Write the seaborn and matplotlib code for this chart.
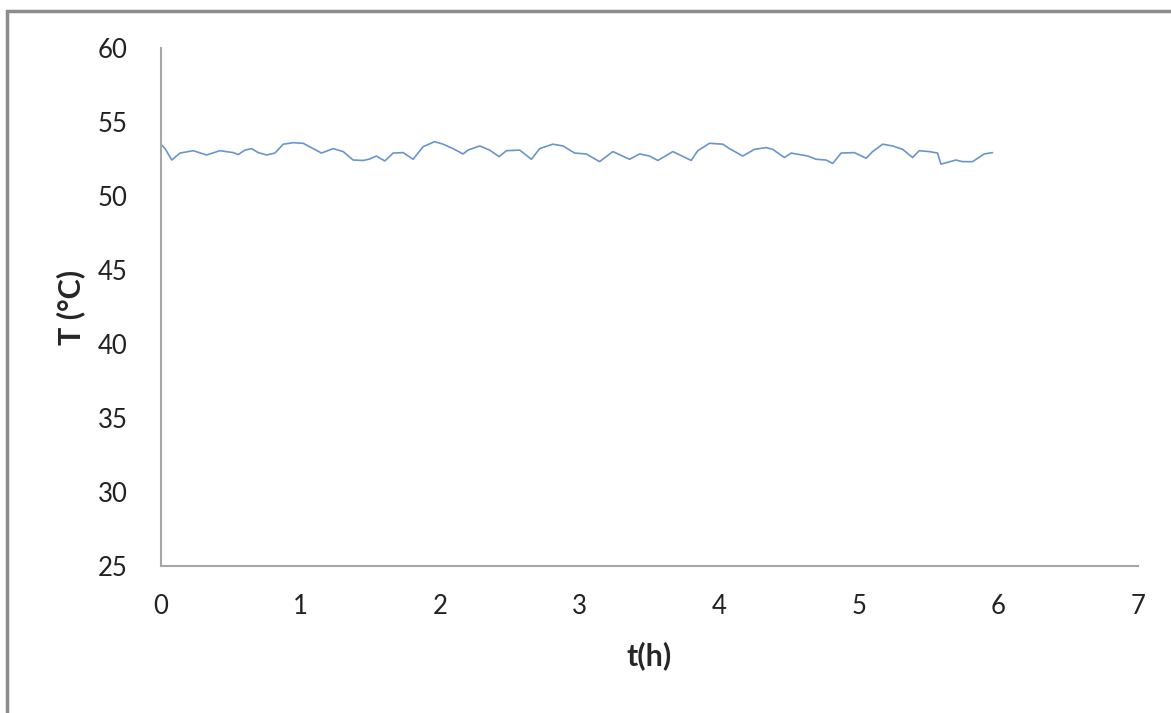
import pandas as pd
import matplotlib
matplotlib.use("Agg")
import matplotlib.pyplot as plt
from matplotlib.patches import Rectangle
import seaborn as sns

# digitized readings

t_hours = [0.005, 0.029, 0.077, 0.136, 0.231, 0.327, 0.422, 0.518, 0.553, 0.601,
           0.649, 0.697, 0.756, 0.816, 0.876, 0.947, 1.019, 1.090, 1.150, 1.234,
           1.305, 1.377, 1.448, 1.496, 1.544, 1.568, 1.604, 1.663, 1.735, 1.806,
           1.878, 1.961, 2.021, 2.092, 2.164, 2.200, 2.283, 2.355, 2.422, 2.475,
           2.570, 2.654, 2.713, 2.808, 2.880, 2.964, 3.047, 3.142, 3.238, 3.357,
           3.429, 3.500, 3.560, 3.667, 3.799, 3.846, 3.930, 4.025, 4.073, 4.168,
           4.252, 4.336, 4.383, 4.467, 4.515, 4.634, 4.694, 4.765, 4.813, 4.873,
           4.968, 5.052, 5.099, 5.171, 5.242, 5.314, 5.385, 5.433, 5.505, 5.564,
           5.588, 5.696, 5.743, 5.815, 5.898, 5.958]
temp_c = [53.44, 53.20, 52.43, 52.90, 53.06, 52.77, 53.06, 52.93, 52.80, 53.10,
          53.20, 52.93, 52.77, 52.90, 53.50, 53.60, 53.56, 53.20, 52.90, 53.20,
          53.00, 52.43, 52.40, 52.50, 52.70, 52.55, 52.37, 52.90, 52.93, 52.48,
          53.33, 53.67, 53.50, 53.20, 52.84, 53.10, 53.38, 53.10, 52.66, 53.06,
          53.10, 52.48, 53.20, 53.50, 53.38, 52.90, 52.84, 52.32, 53.00, 52.48,
          52.84, 52.70, 52.40, 53.00, 52.40, 53.06, 53.56, 53.50, 53.20, 52.70,
          53.15, 53.27, 53.15, 52.60, 52.90, 52.70, 52.48, 52.43, 52.20, 52.90,
          52.93, 52.55, 53.00, 53.50, 53.38, 53.15, 52.60, 53.06, 53.00, 52.90,
          52.15, 52.43, 52.32, 52.32, 52.84, 52.93]

df = pd.DataFrame({"t": t_hours, "T": temp_c})

sns.set_style("white")
plt.rcParams['font.family'] = ['Lato', 'DejaVu Sans']

fig = plt.figure(figsize=(11.71, 7.13), dpi=100)
ax = fig.add_axes([0.1375, 0.2062, 0.8343, 0.7265])

sns.lineplot(data=df, x="t", y="T", ax=ax, color="#6A95CC", linewidth=1.2)

ax.set_xlim(0, 7)
ax.set_ylim(25, 60)
ax.set_xticks(range(0, 8))
ax.set_yticks(range(25, 61, 5))
ax.tick_params(axis="both", length=0, labelsize=18.5, colors="#222222")
ax.tick_params(axis="x", pad=20)
ax.tick_params(axis="y", pad=24)

for side in ["top", "right"]:
    ax.spines[side].set_visible(False)
for side in ["left", "bottom"]:
    ax.spines[side].set_color("#A6A6A6")
    ax.spines[side].set_linewidth(1.5)

ax.set_xlabel("t(h)", fontsize=22, fontweight="bold", labelpad=16)
ax.set_ylabel("T (°C)", fontsize=22, fontweight="bold", labelpad=9)

# grey frame around the chart area
fig.patches.append(Rectangle((6.5 / 1171, -0.1), 2, 1.1 - 11 / 713,
                             transform=fig.transFigure, fill=False,
                             edgecolor="#8C8C8C", linewidth=2.5))

fig.savefig("out.png", dpi=100)
